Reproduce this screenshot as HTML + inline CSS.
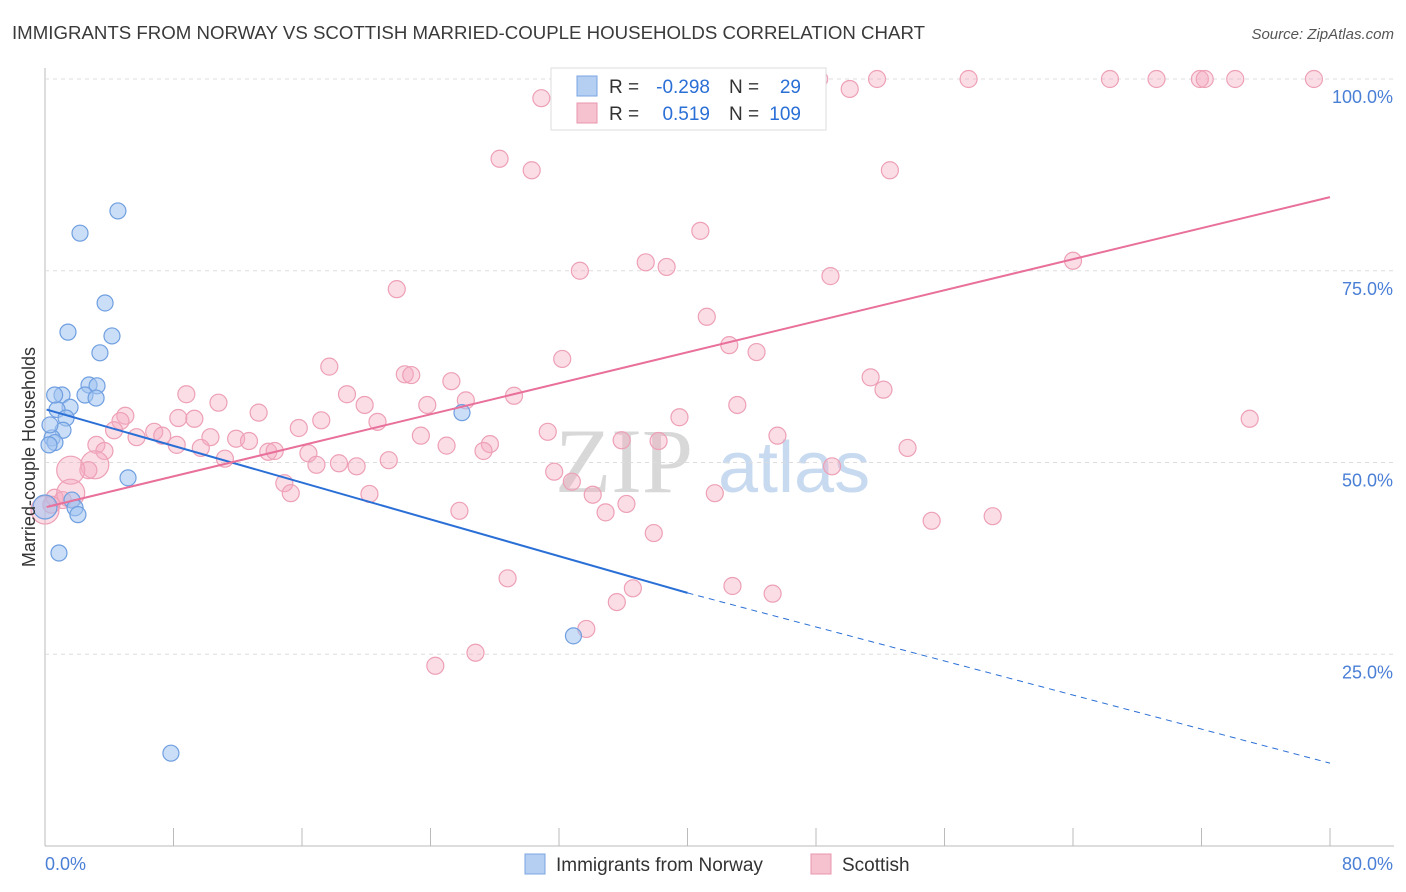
<!DOCTYPE html>
<html><head><meta charset="utf-8">
<style>
body{margin:0;background:#fff;font-family:"Liberation Sans",sans-serif;}
svg{display:block}
</style></head>
<body>
<svg id="chart" width="1406" height="892" xmlns="http://www.w3.org/2000/svg">
<text x="12" y="39" font-size="18" fill="#3a3a3a" textLength="913" lengthAdjust="spacingAndGlyphs">IMMIGRANTS FROM NORWAY VS SCOTTISH MARRIED-COUPLE HOUSEHOLDS CORRELATION CHART</text>
<text x="1394" y="39" font-size="15" fill="#555" font-style="italic" text-anchor="end">Source: ZipAtlas.com</text>
<g><text x="555" y="492" font-size="92" font-family="Liberation Serif,serif" fill="#d8d8d8">ZIP</text><text x="718" y="492" font-size="72" fill="#c8daf0">atlas</text></g>
<g id="grid"></g>
<g id="marks"></g>
<g id="lines"></g>
<text transform="translate(35,457) rotate(-90)" font-size="18" fill="#333" text-anchor="middle">Married-couple Households</text>
<g font-size="19">
<rect x="551" y="68" width="275" height="62" fill="#fff" stroke="#ddd"/>
<rect x="577" y="76" width="20" height="20" fill="#b4cff2" stroke="#7aa6e2"/>
<text x="609" y="93" fill="#333">R =</text><text x="710" y="93" fill="#2a6fd6" text-anchor="end">-0.298</text>
<text x="729" y="93" fill="#333">N =</text><text x="801" y="93" fill="#2a6fd6" text-anchor="end">29</text>
<rect x="577" y="103" width="20" height="20" fill="#f7c2d0" stroke="#ea95ae"/>
<text x="609" y="120" fill="#333">R =</text><text x="710" y="120" fill="#2a6fd6" text-anchor="end">0.519</text>
<text x="729" y="120" fill="#333">N =</text><text x="801" y="120" fill="#2a6fd6" text-anchor="end">109</text>
</g>
<g>
<rect x="525" y="854" width="20" height="20" fill="#b4cff2" stroke="#7aa6e2"/>
<text x="556" y="871" font-size="19" fill="#333">Immigrants from Norway</text>
<rect x="811" y="854" width="20" height="20" fill="#f7c2d0" stroke="#ea95ae"/>
<text x="842" y="871" font-size="19" fill="#333">Scottish</text>
</g>
</svg>
<script>
const xTickLabels=["0.0%","80.0%"];
const yTicks=[25,50,75,100];
const yTickLabels=["25.0%","50.0%","75.0%","100.0%"];
const blueX=[2.18,4.54,3.74,1.43,4.17,3.42,1.06,2.74,3.24,2.49,3.18,1.56,0.75,1.31,1.12,0.44,0.62,0.25,1.68,1.87,2.05,5.17,0.87,25.96,32.9,7.84,0.31,0.6,0];
const blueY=[79.9,82.8,70.8,67.0,66.5,64.3,58.8,60.1,60.0,58.8,58.4,57.2,56.9,55.8,54.2,53.2,52.6,52.3,45.1,44.1,43.2,48.0,38.2,56.5,27.4,12.1,54.9,58.8,44.2];
const pinkX=[44.96,48.2,51.8,57.5,66.3,69.2,71.9,72.2,74.1,79.0,50.1,30.9,47.2,28.3,30.3,52.6,40.8,33.3,37.4,38.7,48.9,64.0,21.9,41.2,42.6,44.3,32.2,17.7,22.4,22.8,25.3,51.4,52.2,8.8,18.8,29.2,10.8,26.2,19.9,23.8,39.5,43.1,75.0,13.3,5.0,8.3,9.3,17.2,20.7,4.7,4.3,6.8,15.8,31.3,45.6,7.3,23.4,5.7,10.3,11.9,35.9,38.2,12.7,8.2,27.7,25.0,27.3,3.2,3.7,9.7,16.4,13.9,14.3,53.7,11.2,21.4,16.9,18.3,19.4,49.0,31.7,3.1,2.7,1.6,32.8,14.9,15.3,20.2,34.1,41.7,36.2,34.9,25.8,55.2,59.0,0.0,0.6,1.1,1.6,37.9,28.8,42.8,36.6,45.3,35.6,33.7,24.3,26.8,0.4];
const pinkY=[100,100,100,100,100,100,100,100,100,100,98.7,97.5,95.6,89.6,88.1,88.1,80.2,75.0,76.1,75.5,74.3,76.3,72.6,69.0,65.3,64.4,63.5,62.5,61.5,61.4,60.6,61.1,59.5,58.9,58.9,58.7,57.8,58.1,57.5,57.5,55.9,57.5,55.7,56.5,56.1,55.8,55.7,55.5,55.3,55.4,54.2,54.0,54.5,54.0,53.5,53.5,53.5,53.3,53.3,53.1,52.9,52.8,52.8,52.3,52.4,52.2,51.5,52.3,51.5,51.9,51.2,51.4,51.5,51.9,50.5,50.3,49.7,49.9,49.5,49.5,48.8,49.7,49.0,49.0,47.5,47.3,46.0,45.9,45.8,46.0,44.6,43.5,43.7,42.4,43.0,43.8,45.4,45.1,46.0,40.8,34.9,33.9,33.6,32.9,31.8,28.3,23.5,25.2,44.5];
const bigPink=[81,83,95,98];
const blueLine=[[0.1,56.9],[40,33.0],[80,10.8]];
const pinkLine=[[0.1,44.2],[80,84.6]];
const NS="http://www.w3.org/2000/svg";
const X=v=>45+v/80*1285, Y=v=>846-v/100*767;
function mk(tag,attrs,parent){const e=document.createElementNS(NS,tag);for(const k in attrs)e.setAttribute(k,attrs[k]);parent.appendChild(e);return e;}
const grid=document.getElementById('grid'),marks=document.getElementById('marks'),lines=document.getElementById('lines');
let ax=mk('line',{x1:45,y1:68,x2:45,y2:846,stroke:'#bbb'},grid);


let bx=mk('line',{x1:45,y1:846,x2:1394,y2:846,stroke:'#bbb'},grid);


for(let i=0;i<=10;i++){const t=mk('line',{x1:X(i*8),y1:828,x2:X(i*8),y2:846,stroke:'#bbb'},grid);

}
yTicks.forEach((v,i)=>{const g=mk('line',{x1:45,y1:Y(v),x2:1394,y2:Y(v),stroke:'#ddd','stroke-dasharray':'4,4'},grid);


const t=mk('text',{x:1393,y:Y(v)+24,'font-size':18,fill:'#4a7fd6','text-anchor':'end'},grid);t.textContent=yTickLabels[i];

});
xTickLabels.forEach((s,i)=>{const t=mk('text',{x:i?1393:45,y:870,'font-size':18,fill:'#4a7fd6','text-anchor':i?'end':'start'},grid);t.textContent=s;

});
pinkX.forEach((x,i)=>{const big=bigPink.includes(i);const c=mk('circle',{cx:X(x),cy:Y(pinkY[i]),r:big?14:8.5,fill:'rgba(245,170,192,0.4)',stroke:'#eda0b6','stroke-width':1.2},marks);

});
blueX.forEach((x,i)=>{const c=mk('circle',{cx:X(x),cy:Y(blueY[i]),r:i==28?12:8,fill:'rgba(160,195,240,0.55)',stroke:'#6f9fe0','stroke-width':1.2},marks);

});
let l1=mk('line',{x1:X(blueLine[0][0]),y1:Y(blueLine[0][1]),x2:X(blueLine[1][0]),y2:Y(blueLine[1][1]),stroke:'#2a6fd6','stroke-width':2},lines);


let l2=mk('line',{x1:X(blueLine[1][0]),y1:Y(blueLine[1][1]),x2:X(blueLine[2][0]),y2:Y(blueLine[2][1]),stroke:'#2a6fd6','stroke-width':1,'stroke-dasharray':'6,5'},lines);


let l3=mk('line',{x1:X(pinkLine[0][0]),y1:Y(pinkLine[0][1]),x2:X(pinkLine[1][0]),y2:Y(pinkLine[1][1]),stroke:'#e8709a','stroke-width':2},lines);


</script>
</body></html>
